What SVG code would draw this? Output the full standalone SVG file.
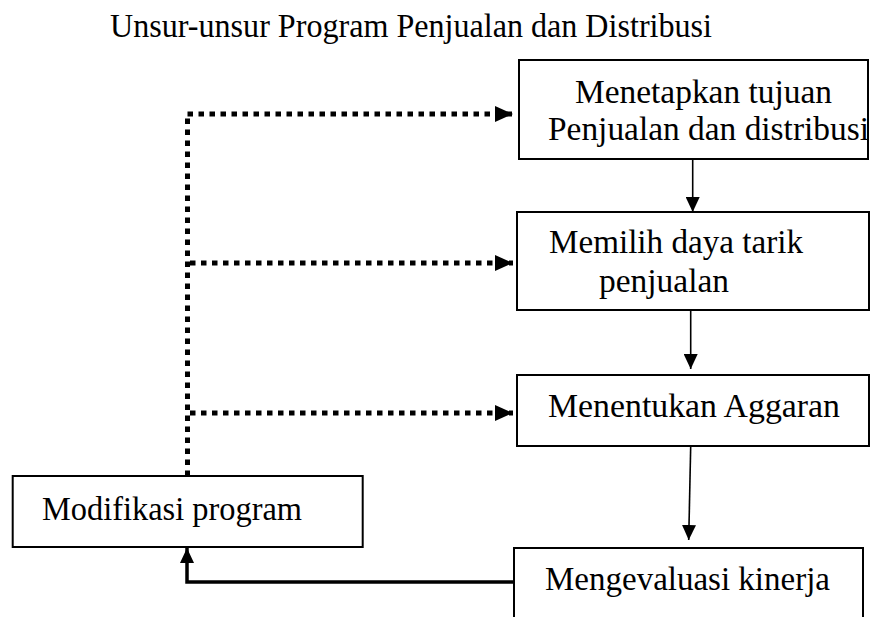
<svg xmlns="http://www.w3.org/2000/svg" width="871" height="617" viewBox="0 0 871 617">
  <defs>
    <style>
      .box { fill: #fff; stroke: #000; stroke-width: 2; }
      .lbl { font-family: "Liberation Serif", "Times New Roman", serif; font-size: 33px; fill: #000; }
      .thin { fill: none; stroke: #000; stroke-width: 1.6; }
      .dot { fill: none; stroke: #000; stroke-width: 5; stroke-dasharray: 5.5 5.5; }
      .fb { fill: none; stroke: #000; stroke-width: 3.5; }
    </style>
    <marker id="ah" markerUnits="userSpaceOnUse" markerWidth="16" markerHeight="14" refX="15" refY="7" orient="auto">
      <path d="M0,0 L15,7 L0,14 Z" fill="#000"/>
    </marker>
    <marker id="ahd" markerUnits="userSpaceOnUse" markerWidth="19" markerHeight="16" refX="18" refY="8" orient="auto">
      <path d="M0,0 L18,8 L0,16 Z" fill="#000"/>
    </marker>
  </defs>
  <rect width="871" height="617" fill="#fff"/>

  <text class="lbl" x="110" y="37" textLength="602" lengthAdjust="spacingAndGlyphs">Unsur-unsur Program Penjualan dan Distribusi</text>

  <g id="connectors">
    <path class="dot" d="M187.5,476 L187.5,114"/>
    <path class="dot" d="M187.5,114 L513,114" marker-end="url(#ahd)"/>
    <path class="dot" d="M190,263 L513,263" marker-end="url(#ahd)"/>
    <path class="dot" d="M190,413 L513,413" marker-end="url(#ahd)"/>
    <path class="thin" d="M692.7,159 L692.7,212" marker-end="url(#ah)"/>
    <path class="thin" d="M690.7,310 L690.7,369" marker-end="url(#ah)"/>
    <path class="thin" d="M690.7,446 L688.7,540" marker-end="url(#ah)"/>
    <path class="fb" d="M514,582 L187,582 L187,548" marker-end="url(#ah)"/>
  </g>

  <g id="node-tujuan">
    <rect class="box" x="519" y="60" width="349" height="99"/>
    <text class="lbl" x="575" y="103" textLength="257" lengthAdjust="spacingAndGlyphs">Menetapkan tujuan</text>
    <text class="lbl" x="548" y="140" textLength="321" lengthAdjust="spacingAndGlyphs">Penjualan dan distribusi</text>
  </g>
  <g id="node-daya-tarik">
    <rect class="box" x="517" y="212" width="352" height="98"/>
    <text class="lbl" x="549" y="253" textLength="254" lengthAdjust="spacingAndGlyphs">Memilih daya tarik</text>
    <text class="lbl" x="599" y="292" textLength="130" lengthAdjust="spacingAndGlyphs">penjualan</text>
  </g>
  <g id="node-anggaran">
    <rect class="box" x="517" y="375" width="352" height="71"/>
    <text class="lbl" x="548" y="417" textLength="292" lengthAdjust="spacingAndGlyphs">Menentukan Aggaran</text>
  </g>
  <g id="node-evaluasi">
    <path class="box" d="M514,630 L514,548 L863,548 L863,630"/>
    <text class="lbl" x="545" y="590" textLength="285" lengthAdjust="spacingAndGlyphs">Mengevaluasi kinerja</text>
  </g>
  <g id="node-modifikasi">
    <rect class="box" x="12.7" y="476" width="350" height="71"/>
    <text class="lbl" x="42" y="520" textLength="260" lengthAdjust="spacingAndGlyphs">Modifikasi program</text>
  </g>
</svg>
